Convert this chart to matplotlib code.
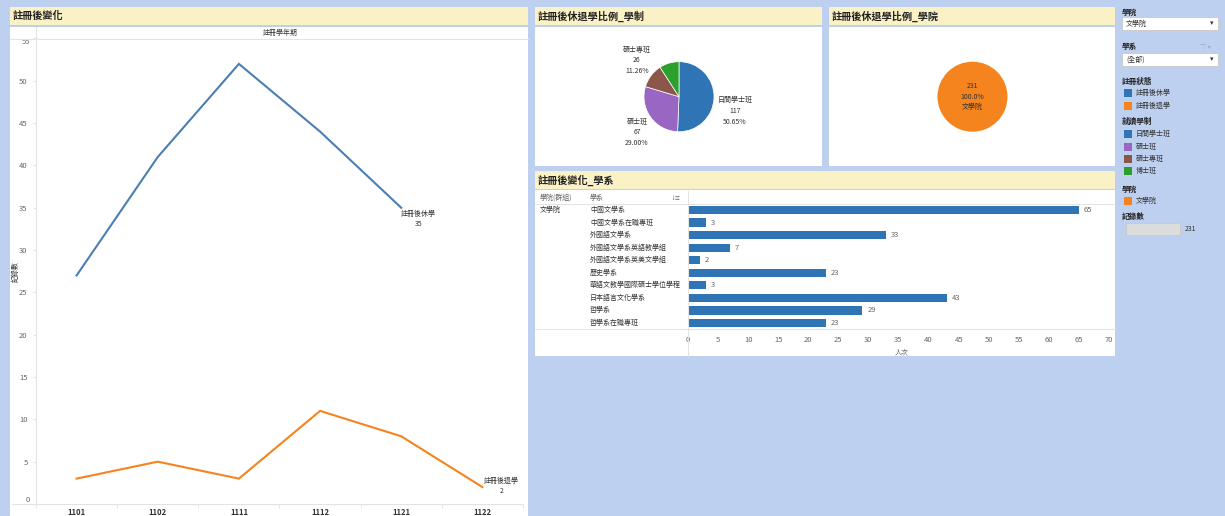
import numpy as np
import matplotlib
matplotlib.use('Agg')
import matplotlib.pyplot as plt
from matplotlib.patches import Rectangle

plt.rcParams['font.family'] = ['Noto Sans CJK TC', 'DejaVu Sans']

# 資料
terms = ['1101', '1102', '1111', '1112', '1121', '1122']
xiu = [27, 41, 52, 44, 35]          # 註冊後休學 (1122 無資料)
tui = [3, 5, 3, 11, 8, 2]           # 註冊後退學

xuezhi = ['日間學士班', '碩士班', '碩士專班', '博士班']
xuezhi_n = [117, 67, 26, 21]

xueyuan = ['文學院']
xueyuan_n = [231]

xuexi = ['中國文學系', '中國文學系在職專班', '外國語文學系', '外國語文學系英語教學組',
         '外國語文學系英美文學組', '歷史學系', '華語文教學國際碩士學位學程',
         '日本語言文化學系', '哲學系', '哲學系在職專班']
xuexi_n = [65, 3, 33, 7, 2, 23, 3, 43, 29, 23]

W, H = 1225, 516
BG = '#bdd0ef'
YEL = '#fbf1c6'
BLUE = '#2f74b5'
LBLUE = '#4a7fb4'
ORANGE = '#f5841f'
PURPLE = '#9966c4'
BROWN = '#8c564b'
GREEN = '#2ca02c'
GRID = '#e3e3e3'
TXT = '#333333'
GRAY = '#666666'


def px(x0, y0, x1, y1):
    return [x0 / W, 1 - y1 / H, (x1 - x0) / W, (y1 - y0) / H]


def fx(x):
    return x / W


def fy(y):
    return 1 - y / H


fig = plt.figure(figsize=(W / 100, H / 100), dpi=100)
fig.patch.set_facecolor(BG)


def box(x0, y0, x1, y1, color, ec='none', z=-1):
    fig.patches.append(Rectangle((fx(x0), fy(y1)), (x1 - x0) / W, (y1 - y0) / H,
                                 transform=fig.transFigure, facecolor=color,
                                 edgecolor=ec, lw=0.6, zorder=z))


def title_bar(x0, y0, x1, y1, s):
    box(x0, y0, x1, y1, YEL)
    fig.text(fx(x0 + 3), fy((y0 + y1) / 2), s, fontsize=7.3, fontweight='bold',
             color='#222222', va='center', ha='left')


# 面板背景
box(10, 27, 528, 516, 'white')
title_bar(10, 7, 528, 25, '註冊後變化')
box(535, 27, 822, 166, 'white')
title_bar(535, 7, 822, 25, '註冊後休退學比例_學制')
box(829, 27, 1115, 166, 'white')
title_bar(829, 7, 1115, 25, '註冊後休退學比例_學院')
box(535, 190, 1115, 356, 'white')
title_bar(535, 171, 1115, 189, '註冊後變化_學系')

# ---------- 折線圖 ----------
ax = fig.add_axes(px(36, 38.5, 523, 504))
ax.set_facecolor('none')
x = np.arange(len(terms))
ax.plot(x[:len(xiu)], xiu, color=LBLUE, lw=1.5, solid_joinstyle='miter')
ax.plot(x, tui, color=ORANGE, lw=1.5, solid_joinstyle='miter')
ax.set_xlim(-0.5, 5.5)
ax.set_ylim(0, 55)
yt = np.arange(0, 56, 5)
ax.set_yticks(yt)
# 0 與 55 的標籤另外畫，避免被邊界切掉
ax.set_yticklabels([''] + [str(v) for v in yt[1:-1]] + [''])
ax.text(-0.012, 0, str(yt[0]), transform=ax.transAxes, fontsize=5.5, color=GRAY,
        ha='right', va='bottom')
ax.text(-0.012, 1, str(yt[-1]), transform=ax.transAxes, fontsize=5.5, color=GRAY,
        ha='right', va='top')
ax.set_xticks(x)
ax.set_xticklabels(terms, fontsize=5.5, fontweight='bold', color=TXT)
ax.set_xticks(np.arange(-0.5, 6, 1), minor=True)
ax.tick_params(axis='x', which='major', length=0, pad=3)
ax.tick_params(axis='x', which='minor', length=3, color=GRID)
ax.tick_params(axis='y', labelsize=5.5, labelcolor=GRAY, length=2, color=GRID, pad=4)
for s in ['top', 'right']:
    ax.spines[s].set_visible(False)
ax.spines['left'].set_color(GRID)
ax.spines['bottom'].set_color(GRID)
ax.spines['bottom'].set_bounds(-0.8, 5.5)
ax.annotate('註冊後休學\n%d' % xiu[-1], (x[len(xiu) - 1], xiu[-1]), xytext=(17, -11),
            textcoords='offset pixels', fontsize=5, color=TXT, ha='center',
            va='center', linespacing=1.4)
ax.annotate('註冊後退學\n%d' % tui[-1], (x[-1], tui[-1]), xytext=(19, 1),
            textcoords='offset pixels', fontsize=5, color=TXT, ha='center',
            va='center', linespacing=1.4, annotation_clip=False)
fig.text(fx(280), fy(33), '註冊學年期', fontsize=5, color=TXT, ha='center', va='center')
fig.add_artist(plt.Line2D([fx(10), fx(528)], [fy(38.5), fy(38.5)], color=GRID, lw=0.8))
fig.add_artist(plt.Line2D([fx(36), fx(36)], [fy(27), fy(39)], color=GRID, lw=0.8))
fig.text(fx(16), fy(271), '記錄數', fontsize=5, color=TXT, rotation=90,
         ha='center', va='center')

# ---------- 圓餅圖 學制 ----------
pw, ph, r = 280, 130, 35
ax2 = fig.add_axes(px(679 - pw / 2, 96.7 - ph / 2, 679 + pw / 2, 96.7 + ph / 2))
ax2.set_facecolor('none')
ax2.pie(xuezhi_n, colors=[BLUE, PURPLE, BROWN, GREEN], startangle=90,
        counterclock=False, radius=1,
        wedgeprops=dict(linewidth=0.5, edgecolor='white'))
ax2.set_xlim(-pw / 2 / r, pw / 2 / r)
ax2.set_ylim(-ph / 2 / r, ph / 2 / r)
ax2.set_aspect('equal')
tot = sum(xuezhi_n)


def lab(i):
    return '%s\n%d\n%.2f%%' % (xuezhi[i], xuezhi_n[i], 100 * xuezhi_n[i] / tot)


# 標籤位置 (以半徑為單位)
ax2.text((735 - 679) / r, -(111 - 96.7) / r, lab(0), fontsize=5, color=TXT,
         ha='center', va='center', linespacing=1.45)
ax2.text((637 - 679) / r, -(132.5 - 96.7) / r, lab(1), fontsize=5, color=TXT,
         ha='center', va='center', linespacing=1.45)
ax2.text((637 - 679) / r, -(60.5 - 96.7) / r, lab(2), fontsize=5, color=TXT,
         ha='center', va='center', linespacing=1.45)

# ---------- 圓餅圖 學院 ----------
ax3 = fig.add_axes(px(972.5 - pw / 2, 96.7 - ph / 2, 972.5 + pw / 2, 96.7 + ph / 2))
ax3.set_facecolor('none')
ax3.pie(xueyuan_n, colors=[ORANGE], startangle=90, radius=1)
ax3.set_xlim(-pw / 2 / r, pw / 2 / r)
ax3.set_ylim(-ph / 2 / r, ph / 2 / r)
ax3.set_aspect('equal')
ax3.text(0, 0, '%d\n%.1f%%\n%s' % (xueyuan_n[0], 100.0, xueyuan[0]), fontsize=5,
         color=TXT, ha='center', va='center', linespacing=1.45)

# ---------- 長條圖 學系 ----------
ax4 = fig.add_axes(px(688, 203.7, 1115, 329.3))
ax4.set_facecolor('none')
ypos = np.arange(len(xuexi))
ax4.barh(ypos, xuexi_n, height=0.66, color=BLUE)
ax4.set_xlim(0, 71)
ax4.set_ylim(len(xuexi) - 0.5, -0.5)
ax4.set_yticks([])
ax4.set_xticks(np.arange(0, 71, 5))
ax4.tick_params(axis='x', labelsize=5.5, labelcolor=GRAY, length=0, pad=5)
for s in ['top', 'right']:
    ax4.spines[s].set_visible(False)
ax4.spines['left'].set_color(GRID)
ax4.spines['bottom'].set_color(GRID)
for i, v in enumerate(xuexi_n):
    ax4.text(v + 0.8, i, str(v), fontsize=5.5, color=GRAY, va='center', ha='left')
    fig.text(fx(590), fy(210 + 12.56 * i), xuexi[i], fontsize=5, color=TXT,
             ha='left', va='center')
ax4.set_xlabel('人次', fontsize=5, color=GRAY, labelpad=3)
fig.text(fx(540), fy(210), '文學院', fontsize=5, color=TXT, ha='left', va='center')
fig.text(fx(540), fy(198), '學院(群組)', fontsize=5, color=GRAY, ha='left', va='center')
fig.text(fx(590), fy(198), '學系', fontsize=5, color=GRAY, ha='left', va='center')
fig.text(fx(671), fy(198), '⇂≡', fontsize=4, color=GRAY, ha='left', va='center')
fig.add_artist(plt.Line2D([fx(535), fx(1115)], [fy(203.5), fy(203.5)], color=GRID, lw=0.7))
fig.add_artist(plt.Line2D([fx(535), fx(1115)], [fy(329.3), fy(329.3)], color=GRID, lw=0.7))
fig.add_artist(plt.Line2D([fx(688), fx(688)], [fy(191), fy(356)], color=GRID, lw=0.7))

# ---------- 側邊圖例 ----------
SX = 1122


def head(y, s):
    fig.text(fx(SX), fy(y), s, fontsize=5.5, fontweight='bold', color='#222222',
             ha='left', va='center')


def item(y, s, c):
    box(SX + 2, y - 4, SX + 10, y + 4, c, z=1)
    fig.text(fx(SX + 14), fy(y), s, fontsize=5, color=TXT, ha='left', va='center')


head(12, '學院')
box(SX, 17, 1218, 30, 'white', ec='#c8c8c8')
fig.text(fx(SX + 4), fy(23.5), '文學院', fontsize=5, color=TXT, va='center')
fig.text(fx(1212), fy(23.5), '▾', fontsize=5, color=TXT, va='center', ha='center')
head(47, '學系')
fig.text(fx(1205), fy(47), '▽ ▾', fontsize=4.5, color='#9aaccc', va='center', ha='center')
box(SX, 53, 1218, 66, 'white', ec='#c8c8c8')
fig.text(fx(SX + 4), fy(59.5), '(全部)', fontsize=5, color=TXT, va='center')
fig.text(fx(1212), fy(59.5), '▾', fontsize=5, color=TXT, va='center', ha='center')

head(81, '註冊狀態')
item(93, '註冊後休學', BLUE)
item(106, '註冊後退學', ORANGE)

head(121, '就讀學制')
colors_xz = [BLUE, PURPLE, BROWN, GREEN]
for i, s in enumerate(xuezhi):
    item(134 + 12.5 * i, s, colors_xz[i])

head(189, '學院')
item(201, xueyuan[0], ORANGE)

head(216, '記錄數')
box(SX + 4, 223, 1180, 235, '#dcdcdc', ec='#c8c8c8')
fig.text(fx(1185), fy(229), str(sum(xuexi_n)), fontsize=5, color=TXT, va='center')

fig.savefig('out.png', dpi=100, facecolor=fig.get_facecolor())
